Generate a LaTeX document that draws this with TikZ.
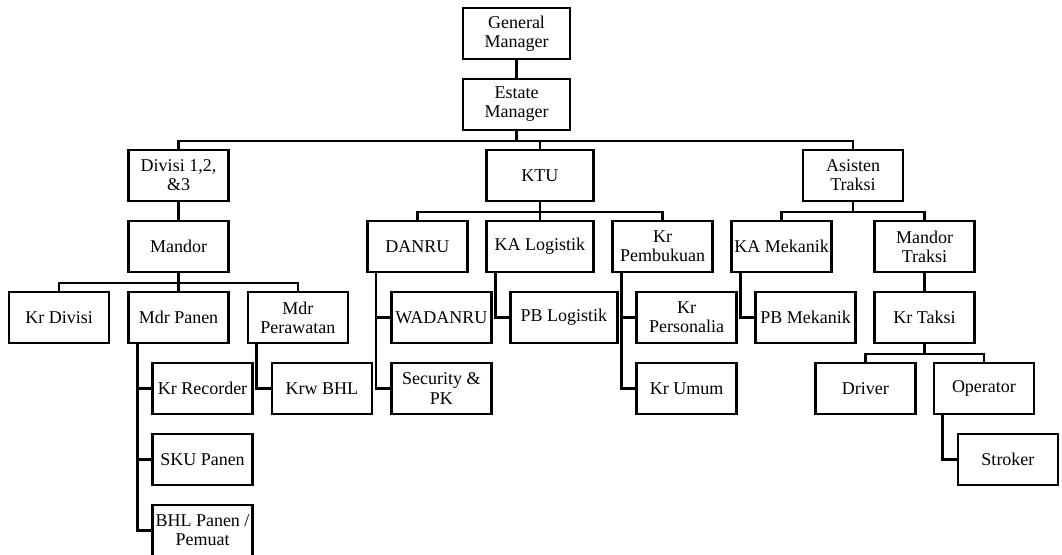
\documentclass[tikz,border=0pt]{standalone}
\usepackage{fontspec}
\setmainfont{Liberation Serif}
\usetikzlibrary{positioning}
\tikzstyle{unit} = [rectangle, minimum width=75pt, minimum height=38pt, inner sep=1pt, align=center, draw=black, line width=1.9pt, font=\fontsize{13.5}{14.3}\selectfont]
\tikzstyle{wideunit} = [unit, minimum width=80pt]
\tikzstyle{link} = [line width=1.9pt]

\begin{document}
\begin{tikzpicture}[x=0.75pt, y=-0.75pt, node distance=53.25pt]
\useasboundingbox (0,0) rectangle (1062,555);
\node (gm) [wideunit] at (516.5,33.5) {General\\Manager};
\node (em) [wideunit, below of=gm] {Estate\\Manager};
\node (div) [unit, below of=em, xshift=-253.5pt] {Divisi 1,2,\\\&3};
\node (ktu) [wideunit, below of=em, xshift=17.6pt] {KTU};
\node (ast) [unit, below of=em, xshift=252.4pt] {Asisten\\Traksi};
\node (mandor) [unit, below of=div] {Mandor};
\node (danru) [unit, below of=ktu, xshift=-91.9pt] {DANRU};
\node (kalog) [wideunit, below of=ktu] {KA Logistik};
\node (krpem) [unit, below of=ktu, xshift=91.9pt] {Kr\\Pembukuan};
\node (kamek) [unit, below of=ast, xshift=-53.6pt] {KA Mekanik};
\node (mtraksi) [unit, below of=ast, xshift=53.6pt] {Mandor\\Traksi};
\node (krdiv) [unit, below of=mandor, xshift=-89.6pt] {Kr Divisi};
\node (mpanen) [unit, below of=mandor] {Mdr Panen};
\node (mrawat) [unit, below of=mandor, xshift=89.6pt] {Mdr\\Perawatan};
\node (wadanru) [unit, below of=danru, xshift=18pt] {WADANRU};
\node (pblog) [wideunit, below of=kalog, xshift=18pt] {PB Logistik};
\node (krpers) [unit, below of=krpem, xshift=18pt] {Kr\\Personalia};
\node (pbmek) [unit, below of=kamek, xshift=18pt] {PB Mekanik};
\node (krtaksi) [unit, below of=mtraksi] {Kr Taksi};
\node (krrec) [unit, below of=mpanen, xshift=18pt] {Kr Recorder};
\node (krwbhl) [unit, below of=mrawat, xshift=18pt] {Krw BHL};
\node (secpk) [unit, below of=wadanru] {Security \&\\PK};
\node (krumum) [unit, below of=krpers] {Kr Umum};
\node (driver) [unit, below of=krtaksi, xshift=-44.3pt] {Driver};
\node (operator) [unit, below of=krtaksi, xshift=44.6pt] {Operator};
\node (sku) [unit, below of=krrec] {SKU Panen};
\node (stroker) [unit, below of=operator, xshift=18pt] {Stroker};
\node (bhl) [unit, below of=sku] {BHL Panen /\\Pemuat};
\draw [link] (gm) -- (em);
\draw [link] (em.south) -- ++(0,-7.5pt) -| (div.north);
\draw [link] (em.south) -- ++(0,-7.5pt) -| (ktu.north);
\draw [link] (em.south) -- ++(0,-7.5pt) -| (ast.north);
\draw [link] (div) -- (mandor);
\draw [link] (ktu.south) -- ++(0,-7.5pt) -| (danru.north);
\draw [link] (ktu.south) -- ++(0,-7.5pt) -| (kalog.north);
\draw [link] (ktu.south) -- ++(0,-7.5pt) -| (krpem.north);
\draw [link] (ast.south) -- ++(0,-7.5pt) -| (kamek.north);
\draw [link] (ast.south) -- ++(0,-7.5pt) -| (mtraksi.north);
\draw [link] (mandor.south) -- ++(0,-7.5pt) -| (krdiv.north);
\draw [link] (mandor.south) -- ++(0,-7.5pt) -| (mpanen.north);
\draw [link] (mandor.south) -- ++(0,-7.5pt) -| (mrawat.north);
\draw [link] (mtraksi) -- (krtaksi);
\draw [link] (krtaksi.south) -- ++(0,-7.5pt) -| (driver.north);
\draw [link] (krtaksi.south) -- ++(0,-7.5pt) -| (operator.north);
\draw [link] ([xshift=7.5pt]mpanen.south west) |- (krrec.west);
\draw [link] ([xshift=7.5pt]mpanen.south west) |- (sku.west);
\draw [link] ([xshift=7.5pt]mpanen.south west) |- (bhl.west);
\draw [link] ([xshift=7.5pt]mrawat.south west) |- (krwbhl.west);
\draw [link] ([xshift=7.5pt]danru.south west) |- (wadanru.west);
\draw [link] ([xshift=7.5pt]danru.south west) |- (secpk.west);
\draw [link] ([xshift=7.5pt]kalog.south west) |- (pblog.west);
\draw [link] ([xshift=7.5pt]krpem.south west) |- (krpers.west);
\draw [link] ([xshift=7.5pt]krpem.south west) |- (krumum.west);
\draw [link] ([xshift=7.5pt]kamek.south west) |- (pbmek.west);
\draw [link] ([xshift=7.5pt]operator.south west) |- (stroker.west);
\end{tikzpicture}
\end{document}
